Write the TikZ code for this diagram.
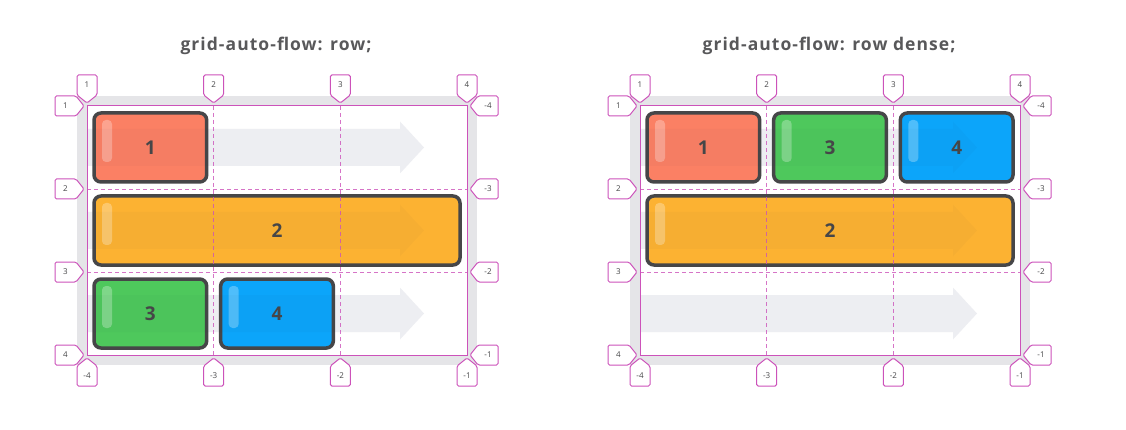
\documentclass[tikz,border=0pt]{standalone}
\usepackage{fontspec}
\setmainfont{Open Sans}
\newfontfamily\titlefont{Open Sans}[LetterSpace=6]
\usetikzlibrary{calc}
\pgfdeclarelayer{fg}
\pgfsetlayers{main,fg}
\definecolor{mag}{RGB}{204,82,186}
\definecolor{framec}{RGB}{229,229,232}
\definecolor{ink}{RGB}{70,70,72}
\definecolor{coral}{RGB}{251,128,100}
\definecolor{amber}{RGB}{252,178,50}
\definecolor{grass}{RGB}{78,200,92}
\definecolor{sky}{RGB}{12,165,250}
\definecolor{arrowc}{RGB}{20,30,70}
\definecolor{arrowbg}{RGB}{243,244,247}
\tikzset{
  gridline/.style={draw=mag, line width=1pt},
  gridinner/.style={draw=mag, line width=0.9pt, dash pattern=on 4pt off 3pt, draw opacity=0.8},
  marker/.style={draw=mag, fill=white, line width=1pt, rounded corners=1.5pt},
  marklabel/.style={font=\fontsize{8}{8}\selectfont, text=ink, inner sep=0pt},
  item/.style={draw=ink, line width=3.5pt, rounded corners=7pt},
  num/.style={font=\bfseries\fontsize{19}{19}\selectfont, text=ink, inner sep=0pt},
  pill/.style={fill=white, fill opacity=0.28, rounded corners=4pt},
  flowbg/.style={fill=arrowbg},
  flow/.style={fill=arrowc, fill opacity=0.025},
  titlestyle/.style={font=\titlefont\bfseries\fontsize{17.5}{17.5}\selectfont, text=ink!90}
}
\newcommand\gframe{%
  \fill[framec] (77,96) rectangle (477,365);
  \fill[white] (87,106) rectangle (467,355);
}
\newcommand\gitem[7]{%
  \draw[item, fill=#6] (#2,#3) rectangle (#4,#5);
  \fill[pill] (#2+8,#3+7) rectangle (#2+18,#3+49);
  \begin{pgfonlayer}{fg}
  \node[num] (#1) at ({(#2+#4)/2},{(#3+#5)/2}) {#7};
  \end{pgfonlayer}
}
\newcommand\gflow[1]{%
  \foreach \c in {147.5,230.5,313.5}{
    \fill[#1] (87,\c-18.5) -- (400,\c-18.5) -- (400,\c-26) -- (424,\c)
      -- (400,\c+26) -- (400,\c+18.5) -- (87,\c+18.5) -- cycle;}
}
\newcommand\glines{%
  \foreach \x in {213.67,340.33}{\draw[gridinner] (\x,106) -- (\x,355);}
  \foreach \y in {189,272}{\draw[gridinner] (87,\y) -- (467,\y);}
  \draw[gridline] (87,106) rectangle (467,355);
}
\newcommand\gmarkers[1]{%
  \foreach \i/\x in {1/87,2/213.67,3/340.33,4/467}{
    \pgfmathtruncatemacro\n{\i-5}
    \draw[marker] (\x-10,75) -- (\x+10,75) -- (\x+10,95) -- (\x,103) -- (\x-10,95) -- cycle;
    \node[marklabel] (#1t\i) at (\x,85) {\i};
    \draw[marker] (\x,358) -- (\x+10,366) -- (\x+10,386) -- (\x-10,386) -- (\x-10,366) -- cycle;
    \node[marklabel] (#1b\i) at (\x,376) {\n};
  }
  \foreach \i/\y in {1/106,2/189,3/272,4/355}{
    \pgfmathtruncatemacro\n{\i-5}
    \draw[marker] (55,\y-10) -- (76,\y-10) -- (84,\y) -- (76,\y+10) -- (55,\y+10) -- cycle;
    \node[marklabel] (#1l\i) at (65.5,\y) {\i};
    \draw[marker] (470,\y) -- (478,\y-10) -- (498,\y-10) -- (498,\y+10) -- (478,\y+10) -- cycle;
    \node[marklabel] (#1r\i) at (488,\y) {\n};
  }
}
\begin{document}
\begin{tikzpicture}[x=1pt,y=-1pt]
\useasboundingbox (0,0) rectangle (1126,430);
% left panel
\node[titlestyle] (titleL) at (276,46) {grid-auto-flow: row;};
\gframe
\gflow{flowbg}
\gitem{L1}{94}{113}{206.67}{182}{coral}{1}
\gitem{L2}{94}{196}{460}{265}{amber}{2}
\gitem{L3}{94}{279}{206.67}{348}{grass}{3}
\gitem{L4}{220.67}{279}{333.33}{348}{sky}{4}
\gflow{flow}
\glines
\gmarkers{L}
% right panel
\begin{scope}[xshift=553pt]
\node[titlestyle] (titleR) at (276,46) {grid-auto-flow: row dense;};
\gframe
\gflow{flowbg}
\gitem{R1}{94}{113}{206.67}{182}{coral}{1}
\gitem{R3}{220.67}{113}{333.33}{182}{grass}{3}
\gitem{R4}{347.33}{113}{460}{182}{sky}{4}
\gitem{R2}{94}{196}{460}{265}{amber}{2}
\gflow{flow}
\glines
\gmarkers{R}
\end{scope}
\end{tikzpicture}
\end{document}
